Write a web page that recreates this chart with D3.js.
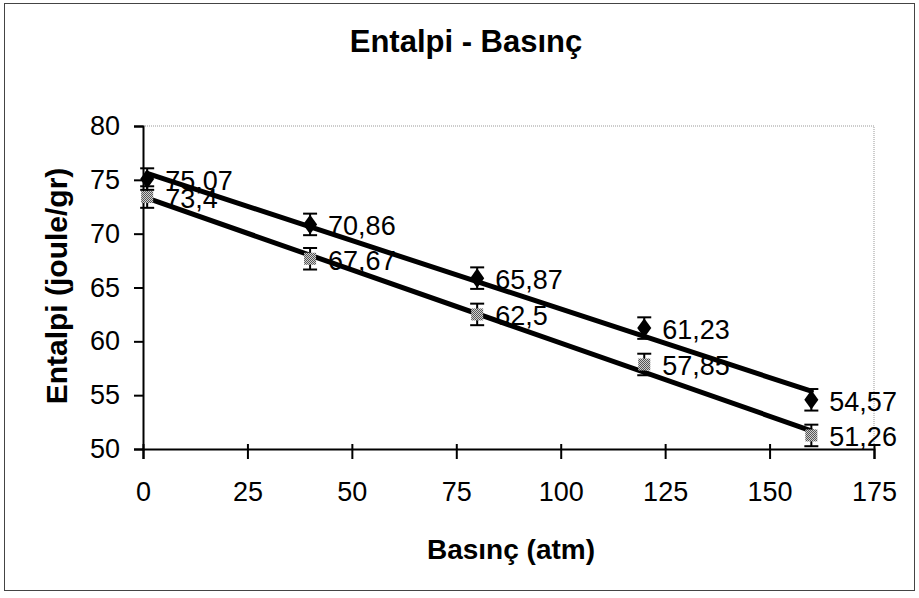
<!DOCTYPE html>
<html>
<head>
<meta charset="utf-8">
<script src="https://cdn.jsdelivr.net/npm/d3@7/dist/d3.min.js"></script>
<style>
  html, body { margin: 0; padding: 0; background: #fff; }
  svg { display: block; font-family: Arial, "Liberation Sans", Helvetica, sans-serif; }
</style>
</head>
<body>
<svg id="chart" width="919" height="598"></svg>
<script>
// Pressure (atm) at which enthalpy was measured
const pressure = [1, 40, 80, 120, 160];
// Enthalpy series (joule/gr)
const seriesA = [75.07, 70.86, 65.87, 61.23, 54.57];
const seriesB = [73.4, 67.67, 62.5, 57.85, 51.26];
// Error bar half-width for each point
const errA = [1, 1, 1, 1, 1];
const errB = [1, 1, 1, 1, 1];
// Axis ticks
const xTicks = [0, 25, 50, 75, 100, 125, 150, 175];
const yTicks = [50, 55, 60, 65, 70, 75, 80];
const fmt = v => String(v).replace(".", ",");

const svg = d3.select("#chart");

// outer chart frame
svg.append("rect")
  .attr("x", 4.5).attr("y", 3.5).attr("width", 910).attr("height", 587)
  .attr("fill", "#fff").attr("stroke", "#444").attr("stroke-width", 1);

const x = d3.scaleLinear().domain([0, 175]).range([143, 874]);
const y = d3.scaleLinear().domain([50, 80]).range([449, 126]);

// dithered grey fill for the square markers
const defs = svg.append("defs");
const pat = defs.append("pattern").attr("id", "dither")
  .attr("width", 2).attr("height", 2).attr("patternUnits", "userSpaceOnUse");
pat.append("rect").attr("width", 2).attr("height", 2).attr("fill", "#d0d0d0");
pat.append("rect").attr("width", 1).attr("height", 1).attr("fill", "#555");
pat.append("rect").attr("x", 1).attr("y", 1).attr("width", 1).attr("height", 1).attr("fill", "#555");

// plot area border (top and right, dotted grey)
svg.append("path")
  .attr("d", `M${x(0)},${y(80)}H${x(175)}V${y(50)}`)
  .attr("fill", "none").attr("stroke", "#999").attr("stroke-width", 1)
  .attr("stroke-dasharray", "1,1");

// y axis
const yAxis = svg.append("g").attr("transform", `translate(${x(0)},0)`)
  .call(d3.axisLeft(y).tickValues(yTicks).tickSize(9).tickPadding(14).tickFormat(d => d));
yAxis.select(".domain").attr("stroke", "#000").attr("stroke-width", 2);
yAxis.selectAll(".tick line").attr("stroke", "#000").attr("stroke-width", 2);
yAxis.selectAll(".tick text").attr("font-size", 27).attr("fill", "#000")
  .attr("font-family", "Arial, 'Liberation Sans', sans-serif");

// x axis
const xAxis = svg.append("g").attr("transform", `translate(0,${y(50)})`)
  .call(d3.axisBottom(x).tickValues(xTicks).tickSize(10).tickPadding(23).tickFormat(d => d));
xAxis.select(".domain").attr("stroke", "#000").attr("stroke-width", 2);
xAxis.selectAll(".tick line").attr("stroke", "#000").attr("stroke-width", 2).attr("y1", -5);
xAxis.selectAll(".tick text").attr("font-size", 27).attr("fill", "#000")
  .attr("font-family", "Arial, 'Liberation Sans', sans-serif");

// least-squares trend line for a series
function trend(ys) {
  const mx = d3.mean(pressure), my = d3.mean(ys);
  let sxy = 0, sxx = 0;
  pressure.forEach((p, i) => { sxy += (p - mx) * (ys[i] - my); sxx += (p - mx) ** 2; });
  const b = sxy / sxx, a = my - b * mx;
  const x0 = pressure[0], x1 = pressure[pressure.length - 1];
  return [[x0, a + b * x0], [x1, a + b * x1]];
}

const line = d3.line().x(d => x(d[0])).y(d => y(d[1]));
[seriesA, seriesB].forEach(s => {
  svg.append("path").datum(trend(s)).attr("d", line)
    .attr("fill", "none").attr("stroke", "#000").attr("stroke-width", 5)
    .attr("stroke-linecap", "round");
});

// error bars
function errorBars(vals, errs) {
  const g = svg.append("g").attr("stroke", "#000").attr("stroke-width", 2);
  vals.forEach((v, i) => {
    const cx = x(pressure[i]);
    g.append("line").attr("x1", cx).attr("x2", cx).attr("y1", y(v + errs[i])).attr("y2", y(v - errs[i]));
    g.append("line").attr("x1", cx - 7).attr("x2", cx + 7).attr("y1", y(v + errs[i])).attr("y2", y(v + errs[i]));
    g.append("line").attr("x1", cx - 7).attr("x2", cx + 7).attr("y1", y(v - errs[i])).attr("y2", y(v - errs[i]));
  });
}
errorBars(seriesA, errA);
errorBars(seriesB, errB);

// markers
const diamond = d3.symbol().type(d3.symbolDiamond).size(110);
svg.append("g").selectAll("path").data(seriesA).join("path")
  .attr("d", diamond)
  .attr("transform", (d, i) => `translate(${x(pressure[i])},${y(d)}) scale(1.25,1)`)
  .attr("fill", "#000");

svg.append("g").selectAll("rect").data(seriesB).join("rect")
  .attr("x", (d, i) => x(pressure[i]) - 6).attr("y", d => y(d) - 6)
  .attr("width", 12).attr("height", 12)
  .attr("fill", "url(#dither)");

// value labels
[seriesA, seriesB].forEach(s => {
  svg.append("g").selectAll("text").data(s).join("text")
    .attr("x", (d, i) => x(pressure[i]) + 18)
    .attr("y", d => y(d) + 2)
    .attr("dominant-baseline", "central")
    .attr("font-size", 27).attr("fill", "#000")
    .text(d => fmt(d));
});

// titles
svg.append("text").attr("x", 466).attr("y", 52).attr("text-anchor", "middle")
  .attr("font-size", 31).attr("font-weight", "bold").text("Entalpi - Basınç");
svg.append("text").attr("x", 511).attr("y", 559).attr("text-anchor", "middle")
  .attr("font-size", 28).attr("font-weight", "bold").text("Basınç (atm)");
svg.append("text").attr("transform", "translate(67,286) rotate(-90)")
  .attr("text-anchor", "middle")
  .attr("font-size", 30).attr("font-weight", "bold").text("Entalpi (joule/gr)");
</script>
</body>
</html>
